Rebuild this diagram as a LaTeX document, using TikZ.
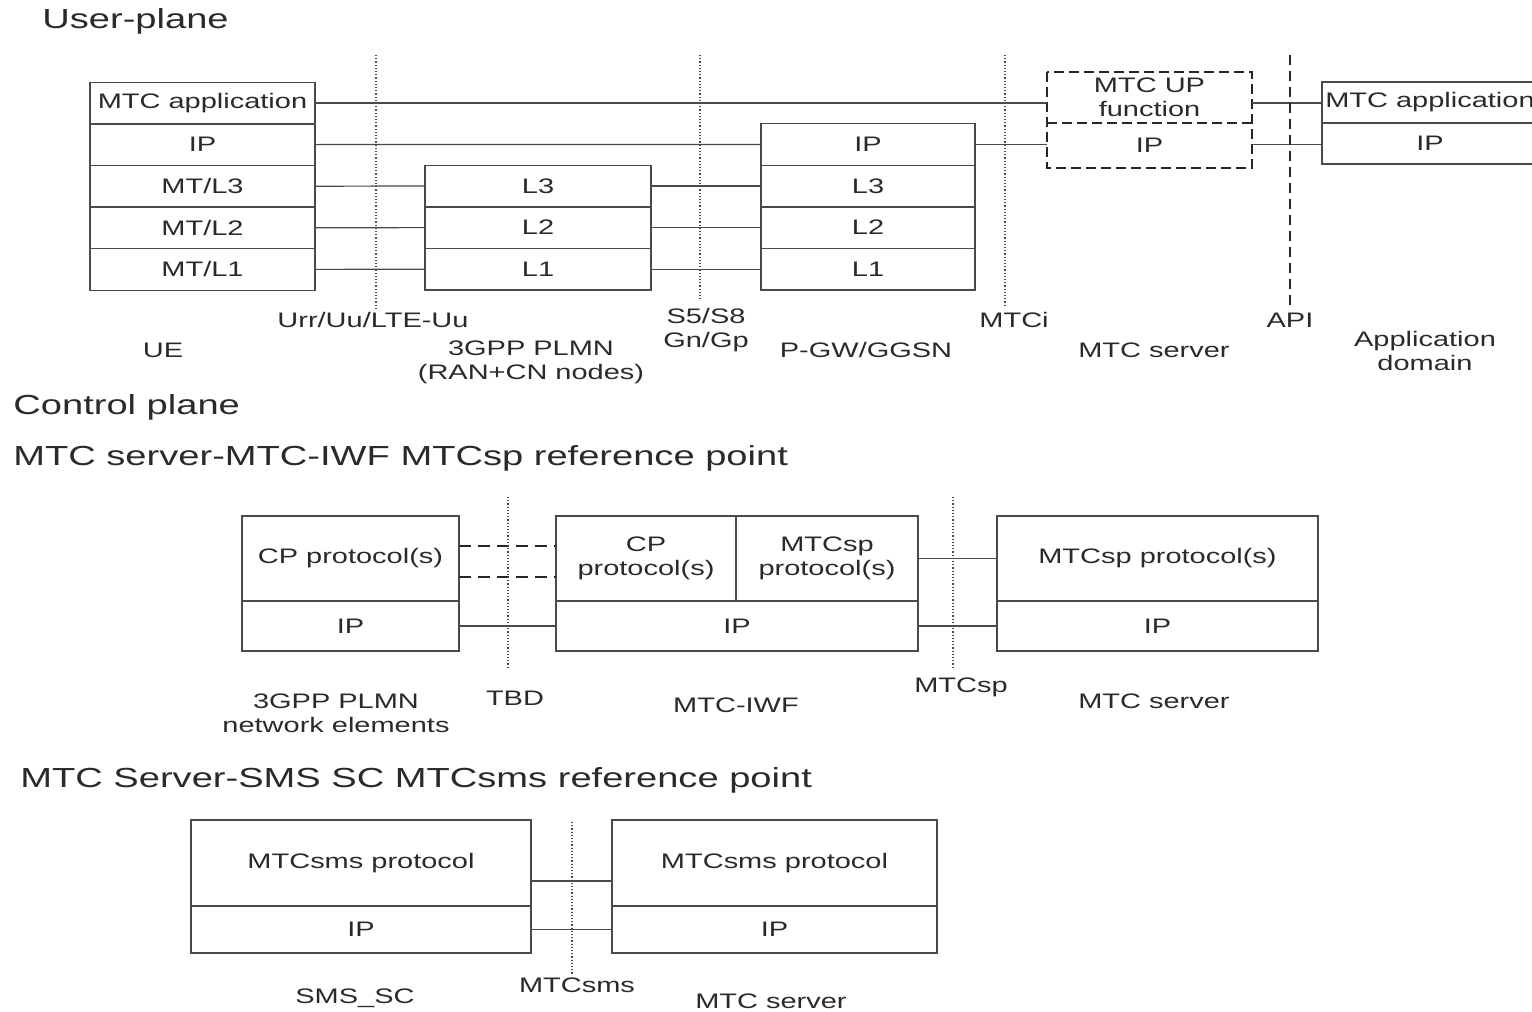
\documentclass[tikz,border=0pt]{standalone}
\usepackage{fontspec}
\setmainfont{Liberation Sans}[FakeStretch=1.38]
\usepackage{tikz}
\definecolor{linegray}{HTML}{4A4A4A}
\definecolor{textgray}{HTML}{2A2A2A}
\tikzset{
  layer/.style={draw=linegray, line width=0.7pt, rectangle, inner sep=0pt, outer sep=0pt,
    text=textgray, font=\fontsize{10.5}{12}\selectfont, align=center},
  label/.style={text=textgray, font=\fontsize{10.5}{12}\selectfont, align=center, inner sep=0pt},
  title/.style={text=textgray, font=\fontsize{13.8}{15}\selectfont, anchor=west, inner sep=0pt},
  link/.style={draw=linegray, line width=0.6pt},
  refline/.style={draw=linegray, line width=0.6pt, densely dotted},
  apiline/.style={draw=black!85, line width=1.4pt, dash pattern=on 5pt off 3pt},
  dashbox/.style={draw=black!85, line width=1.2pt, dash pattern=on 5pt off 2.5pt},
  cpdash/.style={draw=black!85, line width=1pt, dash pattern=on 6pt off 3.5pt}
}
\begin{document}
\begin{tikzpicture}[x=0.5pt, y=-0.5pt]
  \useasboundingbox (0,0) rectangle (1532,1012);

  % user plane
  \node[title] at (42,21) {User-plane};
  \foreach \nm/\txt [count=\i] in {ueapp/{MTC application}, ueip/IP, uel3/{MT/L3}, uel2/{MT/L2}, uel1/{MT/L1}}
    \node[layer, minimum width=112.5pt, minimum height=20.8pt] (\nm) at (202.5,61.4+41.6*\i) {\txt};
  \foreach \nm/\txt [count=\i] in {ranl3/L3, ranl2/L2, ranl1/L1}
    \node[layer, minimum width=113pt, minimum height=20.8pt] (\nm) at (538,144.4+41.6*\i) {\txt};
  \foreach \nm/\txt [count=\i] in {gwip/IP, gwl3/L3, gwl2/L2, gwl1/L1}
    \node[layer, minimum width=107pt, minimum height=20.8pt] (\nm) at (868,102.8+41.6*\i) {\txt};
  \node[layer, draw=none, minimum width=102.5pt, minimum height=25.5pt] (upfn) at (1149.5,97.5) {MTC UP\\function};
  \node[layer, draw=none, minimum width=102.5pt, minimum height=22.5pt] (upip) at (1149.5,145.5) {IP};
  \draw[dashbox] (upfn.north west) rectangle (upip.south east);
  \draw[dashbox] (upfn.south west) -- (upfn.south east);
  \node[layer, minimum width=108pt, minimum height=20.5pt] (adapp) at (1430,102.5) {MTC application};
  \node[layer, minimum width=108pt, minimum height=20.5pt] (adip) at (1430,143.5) {IP};

  \draw[link] (ueapp.east) -- (ueapp.east -| upfn.west);
  \draw[link] (ueapp.east -| upfn.east) -- (ueapp.east -| adapp.west);
  \draw[link] (ueip.east) -- (gwip.west);
  \draw[link] (gwip.east) -- (gwip.east -| upip.west);
  \draw[link] (gwip.east -| upip.east) -- (gwip.east -| adip.west);
  \foreach \a/\b/\c in {uel3/ranl3/gwl3, uel2/ranl2/gwl2, uel1/ranl1/gwl1} {
    \draw[link] (\a.east) -- (\b.west);
    \draw[link] (\b.east) -- (\c.west);
  }

  \draw[refline] (376,55) -- (376,310);
  \draw[refline] (700,55) -- (700,300);
  \draw[refline] (1005,55) -- (1005,305);
  \draw[apiline] (1290,55) -- (1290,305);

  \node[label] (luu) at (373,320) {Urr/Uu/LTE-Uu};
  \node[label] (lue) at (163,350) {UE};
  \node[label] (lran) at (531,362) {3GPP PLMN\\(RAN+CN nodes)};
  \node[label] (ls5) at (706,330) {S5/S8\\Gn/Gp};
  \node[label] (lgw) at (866,350) {P-GW/GGSN};
  \node[label] (lmtci) at (1014,320) {MTCi};
  \node[label] (lsrv) at (1154,350) {MTC server};
  \node[label] (lapi) at (1290,320) {API};
  \node[label] (ladom) at (1425,351) {Application\\domain};

  % control plane
  \node[title] at (13,407) {Control plane};
  \node[title] at (13,458) {MTC server-MTC-IWF MTCsp reference point};

  \node[layer, minimum width=108.5pt, minimum height=42.5pt] (gpcp) at (350.5,558.5) {CP protocol(s)};
  \node[layer, minimum width=108.5pt, minimum height=25pt] (gpip) at (350.5,626) {IP};
  \node[layer, minimum width=90pt, minimum height=42.5pt] (iwfcp) at (646,558.5) {CP\\protocol(s)};
  \node[layer, minimum width=91pt, minimum height=42.5pt] (iwfsp) at (827,558.5) {MTCsp\\protocol(s)};
  \node[layer, minimum width=181pt, minimum height=25pt] (iwfip) at (737,626) {IP};
  \node[layer, minimum width=160.5pt, minimum height=42.5pt] (srvsp) at (1157.5,558.5) {MTCsp protocol(s)};
  \node[layer, minimum width=160.5pt, minimum height=25pt] (srvip) at (1157.5,626) {IP};

  \draw[cpdash] ([yshift=6.25pt]gpcp.east) -- ([yshift=6.25pt]gpcp.east -| iwfcp.west);
  \draw[cpdash] ([yshift=-9.25pt]gpcp.east) -- ([yshift=-9.25pt]gpcp.east -| iwfcp.west);
  \draw[link] (gpip.east) -- (iwfip.west);
  \draw[link] (iwfsp.east) -- (srvsp.west);
  \draw[link] (iwfip.east) -- (srvip.west);

  \draw[refline] (508,497) -- (508,668);
  \draw[refline] (953,497) -- (953,668);

  \node[label] (lgp) at (336,713) {3GPP PLMN\\network elements};
  \node[label] (ltbd) at (515,698) {TBD};
  \node[label] (liwf) at (736,705) {MTC-IWF};
  \node[label] (lmtcsp) at (961,687) {MTCsp};
  \node[label] (lsrv2) at (1154,701) {MTC server};

  % sms
  \node[title] at (20,780) {MTC Server-SMS SC MTCsms reference point};

  \node[layer, minimum width=170pt, minimum height=43pt] (scsms) at (361,863) {MTCsms protocol};
  \node[layer, minimum width=170pt, minimum height=23.5pt] (scip) at (361,929.5) {IP};
  \node[layer, minimum width=162.5pt, minimum height=43pt] (srvsms) at (774.5,863) {MTCsms protocol};
  \node[layer, minimum width=162.5pt, minimum height=23.5pt] (srvip2) at (774.5,929.5) {IP};

  \draw[link] ([yshift=-9pt]scsms.east) -- ([yshift=-9pt]scsms.east -| srvsms.west);
  \draw[link] (scip.east) -- (srvip2.west);

  \draw[refline] (572,822) -- (572,975);

  \node[label] (lsc) at (355,998) {SMS\_SC};
  \node[label] (lmtcsms) at (577,985) {MTCsms};
  \node[label] (lsrv3) at (771,1001) {MTC server};
\end{tikzpicture}
\end{document}
